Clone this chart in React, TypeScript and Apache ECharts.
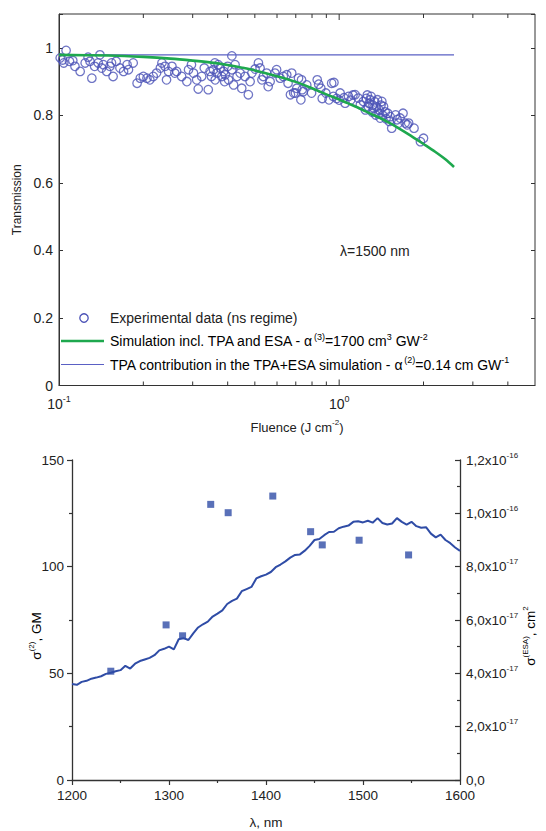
import React, { useEffect, useRef } from "react";
import * as echarts from "echarts";

const FONT = "'Liberation Sans', Arial, Helvetica, sans-serif";
const AXIS = "#333";
const TXT = "#222";

// ---- Top chart: transmission vs fluence ----
const expFluence = [
  0.101, 0.103, 0.104, 0.106, 0.109, 0.112, 0.114, 0.119, 0.124, 0.127, 0.129, 0.131, 0.134, 0.138, 0.14, 0.142,
  0.144, 0.148, 0.152, 0.154, 0.156, 0.16, 0.165, 0.17, 0.175, 0.177, 0.184, 0.19, 0.195, 0.2, 0.206, 0.211,
  0.217, 0.223, 0.23, 0.233, 0.239, 0.242, 0.246, 0.253, 0.259, 0.263, 0.274, 0.286, 0.29, 0.297, 0.302, 0.31,
  0.314, 0.323, 0.33, 0.341, 0.346, 0.35, 0.356, 0.36, 0.361, 0.366, 0.37, 0.376, 0.381, 0.387, 0.39, 0.392,
  0.4, 0.403, 0.414, 0.414, 0.42, 0.425, 0.432, 0.443, 0.449, 0.461, 0.474, 0.481, 0.488, 0.501, 0.515, 0.522,
  0.53, 0.536, 0.551, 0.558, 0.567, 0.59, 0.598, 0.616, 0.632, 0.65, 0.657, 0.67, 0.677, 0.688, 0.698, 0.706,
  0.716, 0.73, 0.734, 0.738, 0.744, 0.766, 0.797, 0.835, 0.845, 0.86, 0.87, 0.896, 0.92, 0.94, 0.953, 0.958,
  0.98, 1.0, 1.008, 1.04, 1.05, 1.08, 1.1, 1.12, 1.14, 1.17, 1.19, 1.22, 1.24, 1.25, 1.26, 1.27,
  1.28, 1.29, 1.3, 1.31, 1.32, 1.33, 1.34, 1.35, 1.36, 1.37, 1.38, 1.39, 1.4, 1.41, 1.42, 1.43,
  1.44, 1.46, 1.47, 1.49, 1.51, 1.52, 1.54, 1.59, 1.61, 1.63, 1.65, 1.69, 1.72, 1.75, 1.77, 1.85,
  1.95, 2.0,
];
const expTransmission = [
  0.97, 0.964, 0.955, 0.992, 0.96, 0.962, 0.945, 0.93, 0.955, 0.972, 0.96, 0.91, 0.945, 0.955, 0.979, 0.94,
  0.95, 0.93, 0.945, 0.955, 0.915, 0.96, 0.94, 0.93, 0.95, 0.935, 0.955, 0.895, 0.91, 0.915, 0.91, 0.905,
  0.915, 0.925, 0.94, 0.955, 0.945, 0.905, 0.93, 0.945, 0.925, 0.93, 0.915, 0.9, 0.935, 0.95, 0.925, 0.905,
  0.878, 0.915, 0.94, 0.876, 0.93, 0.915, 0.935, 0.955, 0.905, 0.925, 0.95, 0.94, 0.915, 0.93, 0.9, 0.92,
  0.945, 0.905, 0.976, 0.935, 0.89, 0.95, 0.915, 0.925, 0.88, 0.915, 0.861, 0.9, 0.925, 0.937, 0.955, 0.94,
  0.905, 0.915, 0.925, 0.885, 0.9, 0.925, 0.935, 0.91, 0.915, 0.92, 0.895, 0.861, 0.925, 0.866, 0.866, 0.88,
  0.91, 0.846, 0.905, 0.876, 0.87, 0.89, 0.866, 0.905, 0.892, 0.88, 0.85, 0.866, 0.846, 0.895, 0.856, 0.897,
  0.85, 0.845, 0.866, 0.852, 0.836, 0.856, 0.845, 0.86, 0.861, 0.851, 0.831, 0.841, 0.816, 0.85, 0.86, 0.826,
  0.835, 0.846, 0.856, 0.81, 0.83, 0.821, 0.84, 0.801, 0.825, 0.846, 0.805, 0.816, 0.792, 0.83, 0.841, 0.8,
  0.826, 0.81, 0.79, 0.806, 0.782, 0.796, 0.762, 0.801, 0.787, 0.777, 0.792, 0.806, 0.777, 0.772, 0.777, 0.762,
  0.722, 0.732,
];
const simFluence = [0.1, 0.15, 0.2, 0.25, 0.3, 0.35, 0.4, 0.45, 0.5, 0.6, 0.7, 0.8, 0.9, 1.0, 1.1, 1.2, 1.3, 1.4, 1.5, 1.6, 1.8, 2.0, 2.2, 2.4, 2.57];
const simTransmission = [0.979, 0.977, 0.973, 0.968, 0.962, 0.956, 0.949, 0.941, 0.933, 0.916, 0.899, 0.88, 0.862, 0.847, 0.832, 0.818, 0.804, 0.792, 0.779, 0.766, 0.74, 0.715, 0.692, 0.669, 0.647];
const tpaFluence = [0.1, 2.57];
const tpaTransmission = [0.979, 0.979];
const fluenceMinorTicks = [0.2, 0.3, 0.4, 0.5, 0.6, 0.7, 0.8, 0.9, 1, 2, 3, 4];

// ---- Bottom chart: spectra ----
const wavelengths = [
  1200, 1205, 1210, 1215, 1220, 1225, 1230, 1235, 1240, 1245, 1250, 1255, 1260, 1265, 1270, 1275, 1280, 1285, 1290, 1295,
  1300, 1305, 1310, 1315, 1320, 1325, 1330, 1335, 1340, 1345, 1350, 1355, 1360, 1365, 1370, 1375, 1380, 1385, 1390, 1395,
  1400, 1405, 1410, 1415, 1420, 1425, 1430, 1435, 1440, 1445, 1450, 1455, 1460, 1465, 1470, 1475, 1480, 1485, 1490, 1495,
  1500, 1505, 1510, 1515, 1520, 1525, 1530, 1535, 1540, 1545, 1550, 1555, 1560, 1565, 1570, 1575, 1580, 1585, 1590, 1595,
  1600,
];
// sigma(ESA) in units of 1e-17 cm^2
const esaCrossSection = [
  3.6, 3.57, 3.68, 3.72, 3.8, 3.84, 3.89, 3.98, 4.02, 4.08, 4.12, 4.28, 4.18, 4.36, 4.46, 4.52, 4.58, 4.68, 4.86, 4.92,
  5.0, 4.9, 5.28, 5.32, 5.25, 5.5, 5.72, 5.84, 5.94, 6.13, 6.24, 6.36, 6.6, 6.72, 6.8, 7.08, 7.16, 7.24, 7.56, 7.64,
  7.7, 7.8, 7.98, 8.08, 8.2, 8.34, 8.44, 8.46, 8.6, 8.78, 9.0, 9.04, 9.18, 9.3, 9.31, 9.44, 9.5, 9.54, 9.68, 9.7,
  9.66, 9.72, 9.65, 9.82, 9.64, 9.58, 9.62, 9.82, 9.68, 9.58, 9.68, 9.52, 9.46, 9.48, 9.24, 9.1, 9.2, 9.0, 8.88, 8.72,
  8.59,
];
const tpaWavelengths = [1240, 1297, 1314, 1343, 1361, 1407, 1446, 1458, 1496, 1547];
const tpaSigmaGM = [51, 72.7, 67.6, 129.2, 125.3, 133.1, 116.4, 110.2, 112.4, 105.5];

const supRich = {
  n: { fontSize: 14, lineHeight: 18, fontFamily: FONT, color: TXT, verticalAlign: "middle" },
  s: { fontSize: 9, lineHeight: 10, fontFamily: FONT, color: TXT, verticalAlign: "top" },
};
const supRichSmall = {
  n: { fontSize: 13.5, lineHeight: 18, fontFamily: FONT, color: TXT, verticalAlign: "middle" },
  s: { fontSize: 8, lineHeight: 9, fontFamily: FONT, color: TXT, verticalAlign: "top" },
};

export default function App() {
  const ref = useRef<HTMLDivElement>(null);
  useEffect(() => {
    if (!ref.current) return;
    const chart = echarts.init(ref.current, undefined, { renderer: "svg" });
    const option: any = {
      animation: false,
      backgroundColor: "#fff",
      textStyle: { fontFamily: FONT },
      grid: [
        { left: 59, top: 14, width: 476, height: 371.5, show: true, borderColor: AXIS, borderWidth: 1, backgroundColor: "transparent" },
        { left: 72, top: 460, width: 388, height: 320 },
      ],
      xAxis: [
        {
          type: "log",
          logBase: 10,
          gridIndex: 0,
          min: 0.1,
          max: 5,
          name: "Fluence (J cm{s|-2})",
          nameLocation: "middle",
          nameGap: 33,
          nameTextStyle: { fontSize: 13, color: TXT, fontFamily: FONT, rich: { s: { fontSize: 8, verticalAlign: "top", lineHeight: 9 } }, lineHeight: 17 },
          axisLine: { show: true, lineStyle: { color: AXIS, width: 1 } },
          axisTick: { show: false },
          splitLine: { show: false },
          axisLabel: {
            margin: 9,
            showMaxLabel: false,
            formatter: (v: number) => {
              const l = Math.log10(v);
              const e = Math.round(l);
              if (Math.abs(l - e) > 1e-6) return "";
              return `{n|10}{s|${e}}`;
            },
            rich: supRich,
          },
        },
        {
          type: "value",
          gridIndex: 1,
          min: 1200,
          max: 1600,
          interval: 100,
          name: "λ, nm",
          nameLocation: "middle",
          nameGap: 35,
          nameTextStyle: { fontSize: 13.5, color: TXT, fontFamily: FONT },
          axisLine: { show: true, lineStyle: { color: AXIS, width: 1.3 } },
          axisTick: { show: true, inside: false, length: 5, lineStyle: { color: AXIS, width: 1.2 } },
          minorTick: { show: true, splitNumber: 2, length: 3, lineStyle: { color: AXIS, width: 1.2 } },
          splitLine: { show: false },
          axisLabel: { margin: 8, fontSize: 13.5, color: TXT, fontFamily: FONT, formatter: (v: number) => String(v) },
        },
      ],
      yAxis: [
        {
          type: "value",
          gridIndex: 0,
          min: 0,
          max: 1.1,
          interval: 0.2,
          name: "Transmission",
          nameLocation: "middle",
          nameGap: 35,
          nameTextStyle: { fontSize: 12, color: TXT, fontFamily: FONT },
          axisLine: { show: true, lineStyle: { color: AXIS, width: 1 } },
          axisTick: { show: true, inside: true, length: 4, lineStyle: { color: AXIS } },
          splitLine: { show: false },
          axisLabel: {
            margin: 6,
            fontSize: 14,
            color: TXT,
            fontFamily: FONT,
            formatter: (v: number) => (v > 1.05 ? "" : String(+v.toFixed(1))),
          },
        },
        {
          type: "value",
          gridIndex: 0,
          position: "right",
          min: 0,
          max: 1.1,
          interval: 0.2,
          axisLine: { show: false },
          axisTick: { show: true, inside: true, length: 4, lineStyle: { color: AXIS } },
          axisLabel: { show: false },
          splitLine: { show: false },
        },
        {
          type: "value",
          gridIndex: 1,
          min: 0,
          max: 150,
          interval: 50,
          axisLine: { show: true, lineStyle: { color: AXIS, width: 1.3 } },
          axisTick: { show: true, inside: false, length: 5, lineStyle: { color: AXIS, width: 1.2 } },
          minorTick: { show: true, splitNumber: 2, length: 3, lineStyle: { color: AXIS, width: 1.2 } },
          splitLine: { show: false },
          axisLabel: { margin: 8, fontSize: 13.5, color: TXT, fontFamily: FONT },
        },
        {
          type: "value",
          gridIndex: 1,
          position: "right",
          min: 0,
          max: 1.2e-16,
          interval: 2e-17,
          axisLine: { show: true, lineStyle: { color: AXIS, width: 1.3 } },
          axisTick: { show: true, inside: true, length: 5, lineStyle: { color: AXIS, width: 1.2 } },
          minorTick: { show: true, splitNumber: 2, length: 3, lineStyle: { color: AXIS, width: 1.2 } },
          splitLine: { show: false },
          axisLabel: {
            margin: 6,
            formatter: (v: number) => {
              if (v === 0) return "{n|0,0}";
              const e = Math.floor(Math.log10(v) + 1e-9);
              const m = v / Math.pow(10, e);
              return `{n|${m.toFixed(1).replace(".", ",")}x10}{s|${e}}`;
            },
            rich: supRichSmall,
          },
        },
      ],
      series: [
        {
          type: "scatter",
          xAxisIndex: 0,
          yAxisIndex: 0,
          symbol: "circle",
          symbolSize: 8.5,
          itemStyle: { color: "rgba(0,0,0,0)", borderColor: "#4b52b6", borderWidth: 1.3 },
          data: expFluence.map((f, i) => [f, expTransmission[i]]),
          z: 2,
        },
        {
          type: "line",
          xAxisIndex: 0,
          yAxisIndex: 0,
          showSymbol: false,
          lineStyle: { color: "#5a60c4", width: 1.2 },
          data: tpaFluence.map((f, i) => [f, tpaTransmission[i]]),
          z: 3,
        },
        {
          type: "line",
          xAxisIndex: 0,
          yAxisIndex: 0,
          showSymbol: false,
          smooth: 0.3,
          lineStyle: { color: "#1ea84e", width: 2.6 },
          data: simFluence.map((f, i) => [f, simTransmission[i]]),
          z: 4,
        },
        {
          type: "custom",
          xAxisIndex: 0,
          yAxisIndex: 0,
          silent: true,
          clip: false,
          data: fluenceMinorTicks.map((f) => [f, 0]),
          renderItem: (params: any, api: any) => {
            const v = api.value(0);
            const b = api.coord([v, 0]);
            const t = api.coord([v, 1.1]);
            const l = Math.log10(v);
            const len = Math.abs(l - Math.round(l)) < 1e-6 ? 6 : 4;
            const st = { stroke: AXIS, lineWidth: 1 };
            return {
              type: "group",
              children: [
                { type: "line", shape: { x1: b[0], y1: b[1], x2: b[0], y2: b[1] - len }, style: st },
                { type: "line", shape: { x1: t[0], y1: t[1], x2: t[0], y2: t[1] + len }, style: st },
              ],
            };
          },
        },
        {
          type: "line",
          xAxisIndex: 1,
          yAxisIndex: 3,
          showSymbol: false,
          lineStyle: { color: "#2f4ca6", width: 2 },
          data: wavelengths.map((w, i) => [w, esaCrossSection[i] * 1e-17]),
        },
        {
          type: "scatter",
          xAxisIndex: 1,
          yAxisIndex: 2,
          symbol: "rect",
          symbolSize: 7,
          itemStyle: { color: "#2f4ca6" },
          data: tpaWavelengths.map((w, i) => [w, tpaSigmaGM[i]]),
          z: 5,
        },
      ],
      graphic: [
        { type: "circle", shape: { cx: 84, cy: 318, r: 4.2 }, style: { fill: "none", stroke: "#4b52b6", lineWidth: 1.3 } },
        { type: "text", x: 110, y: 318, style: { text: "Experimental data (ns regime)", fontSize: 14, fontFamily: FONT, fill: TXT, verticalAlign: "middle" } },
        { type: "line", shape: { x1: 61, y1: 341, x2: 104, y2: 341 }, style: { stroke: "#1ea84e", lineWidth: 2.6 } },
        {
          type: "text",
          x: 110,
          y: 341,
          style: {
            text: "{n|Simulation incl. TPA and ESA - α}{s|(3)}{n|=1700 cm}{s|3}{n| GW}{s|-2}",
            rich: supRich,
            verticalAlign: "middle",
          },
        },
        { type: "line", shape: { x1: 61, y1: 364.5, x2: 104, y2: 364.5 }, style: { stroke: "#5a60c4", lineWidth: 1.2 } },
        {
          type: "text",
          x: 110,
          y: 364.5,
          style: {
            text: "{n|TPA contribution in the TPA+ESA simulation - α}{s|(2)}{n|=0.14 cm GW}{s|-1}",
            rich: supRich,
            verticalAlign: "middle",
          },
        },
        { type: "text", x: 340, y: 251, style: { text: "λ=1500 nm", fontSize: 14, fontFamily: FONT, fill: TXT, verticalAlign: "middle" } },
        {
          type: "text",
          x: 36,
          y: 636,
          rotation: Math.PI / 2,
          style: { text: "{n|σ}{s|(2)}{n|, GM}", rich: supRichSmall, align: "center", verticalAlign: "middle" },
        },
        {
          type: "text",
          x: 530,
          y: 636,
          rotation: Math.PI / 2,
          style: { text: "{n|σ}{s|(ESA)}{n|, cm}{s|2}", rich: supRichSmall, align: "center", verticalAlign: "middle" },
        },
      ],
    };
    chart.setOption(option);
    return () => chart.dispose();
  }, []);
  return (
    <div
      ref={ref}
      style={{ position: "fixed", left: 0, top: 0, width: 546, height: 831, background: "#fff" }}
    />
  );
}
